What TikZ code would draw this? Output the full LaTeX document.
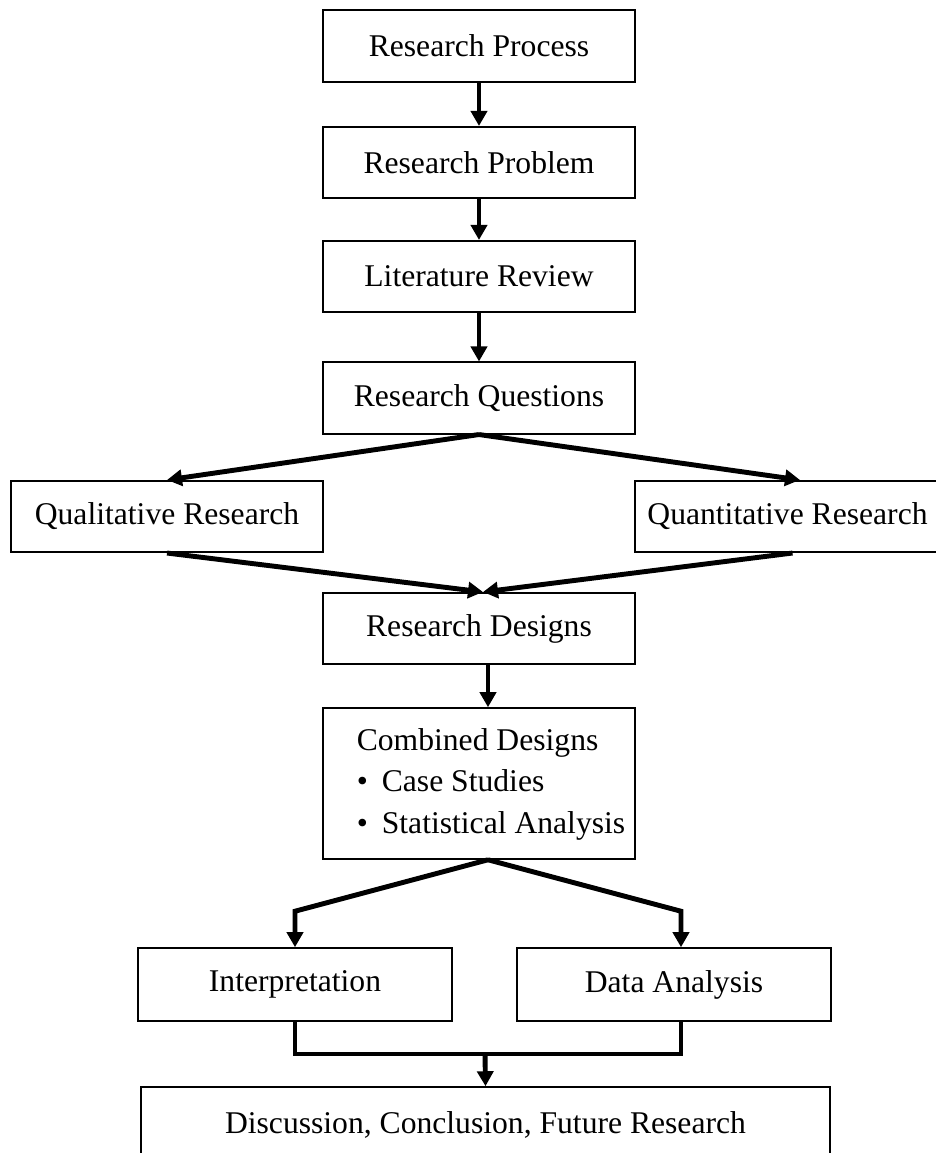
\documentclass[tikz,border=0pt]{standalone}
\usepackage{fontspec}
\setmainfont{Liberation Serif}
\usetikzlibrary{arrows.meta}

\begin{document}
\begin{tikzpicture}[x=0.02cm,y=-0.02cm,
  box/.style={draw, line width=0.9pt, minimum width=6.24cm, minimum height=1.43cm,
    inner sep=0.1cm, font=\fontsize{18}{23.5}\selectfont},
  link/.style={line width=2.8pt, -{Triangle[length=0.3cm,width=0.32cm]}},
  wire/.style={line width=2.8pt}]

\useasboundingbox (0,0) rectangle (936,1153);

\node[box] (proc)   at (479,  46)   {Research Process};
\node[box] (prob)   at (479, 162.5) {Research Problem};
\node[box] (lit)    at (479, 276.5) {Literature Review};
\node[box] (quest)  at (479, 398)   {Research Questions};

\node[box] (qual)   at (167, 516.5) {Qualitative Research};
\node[box, minimum width=6.1cm] (quan) at (787.5,516.5) {Quantitative Research};

\node[box] (design) at (479, 628.5) {Research Designs};
\node[box, minimum height=3.02cm] (comb) at (479,783.5)
  {\hspace*{0.48cm}\begin{tabular}{@{}l@{}}
    Combined Designs\\
    \textbullet\hspace{0.28cm}Case Studies\\
    \textbullet\hspace{0.28cm}Statistical Analysis
  \end{tabular}};

\node[box, minimum width=6.28cm, minimum height=1.46cm] (interp) at (295,984.5) {Interpretation};
\node[box, minimum width=6.28cm, minimum height=1.46cm] (data)   at (674,984.5) {Data Analysis};

\node[box, minimum width=13.78cm, minimum height=1.52cm] (disc) at (485.5,1125)
  {Discussion, Conclusion, Future Research};

\coordinate (join) at (485,1054);

% main line
\draw[link] (proc.south) -- (prob.north);
\draw[link] (prob.south) -- (lit.north);
\draw[link] (lit.south) -- (quest.north);

\draw[link] (quest.south) -- (qual.north);
\draw[link] (quest.south) -- ([xshift=0.25cm]quan.north);
\draw[link] (qual.south) -- ([xshift=0.08cm]design.north);
\draw[link] ([xshift=0.1cm]quan.south) -- ([xshift=0.08cm]design.north);

\draw[link] ([xshift=0.18cm]design.south) -- ([xshift=0.18cm]comb.north);

% split and merge
\draw[link] ([xshift=0.18cm]comb.south) -- ([yshift=0.72cm]interp.north) -- (interp.north);
\draw[link] ([xshift=0.18cm]comb.south) -- ([xshift=0.14cm,yshift=0.72cm]data.north) -- ([xshift=0.14cm]data.north);

\draw[wire] (interp.south) |- (join) -| ([xshift=0.14cm]data.south);
\draw[link] (join) -- (disc.north);

\end{tikzpicture}
\end{document}
